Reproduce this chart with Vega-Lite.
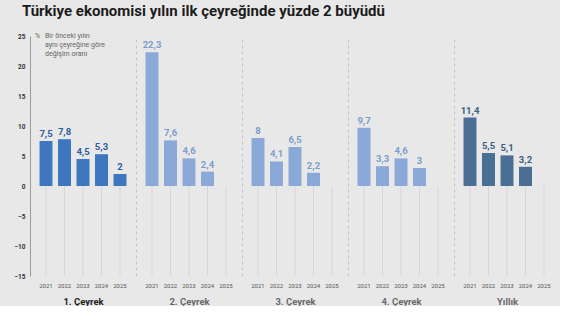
{
  "$schema": "https://vega.github.io/schema/vega-lite/v6.json",
  "background": "#e8e8e8",
  "padding": {"left": 13, "top": 4, "right": 0, "bottom": 0},
  "title": {"text": "Türkiye ekonomisi yılın ilk çeyreğinde yüzde 2 büyüdü", "anchor": "start", "frame": "bounds", "font": "Roboto", "fontSize": 15, "fontWeight": "bold", "color": "#1c1c1c", "offset": 13, "dx": 8},
  "config": {
    "locale": {"number": {"decimal": ",", "thousands": ".", "grouping": [3], "currency": ["", " TL"]}},
    "view": {"stroke": null},
    "concat": {"spacing": 0},
    "font": "Roboto",
    "axisX": {"labelFontSize": 6, "labelColor": "#555", "labelAngle": 0, "domain": false, "ticks": false, "grid": false, "labelPadding": 6, "titleFontSize": 9.5, "titleFontWeight": "bold", "titleColor": "#6a6a6a", "titlePadding": 8, "labelFont": "Roboto", "titleFont": "Roboto"},
    "axisY": {"grid": false, "ticks": false, "labels": false, "labelOverlap": false, "domainDash": [3, 3], "domainColor": "#c4c4c4", "title": null}
  },
  "data": {"values": [
    {"q": "1. Çeyrek", "year": "2021", "value": 7.5},
    {"q": "1. Çeyrek", "year": "2022", "value": 7.8},
    {"q": "1. Çeyrek", "year": "2023", "value": 4.5},
    {"q": "1. Çeyrek", "year": "2024", "value": 5.3},
    {"q": "1. Çeyrek", "year": "2025", "value": 2},
    {"q": "2. Çeyrek", "year": "2021", "value": 22.3},
    {"q": "2. Çeyrek", "year": "2022", "value": 7.6},
    {"q": "2. Çeyrek", "year": "2023", "value": 4.6},
    {"q": "2. Çeyrek", "year": "2024", "value": 2.4},
    {"q": "3. Çeyrek", "year": "2021", "value": 8},
    {"q": "3. Çeyrek", "year": "2022", "value": 4.1},
    {"q": "3. Çeyrek", "year": "2023", "value": 6.5},
    {"q": "3. Çeyrek", "year": "2024", "value": 2.2},
    {"q": "4. Çeyrek", "year": "2021", "value": 9.7},
    {"q": "4. Çeyrek", "year": "2022", "value": 3.3},
    {"q": "4. Çeyrek", "year": "2023", "value": 4.6},
    {"q": "4. Çeyrek", "year": "2024", "value": 3},
    {"q": "Yıllık", "year": "2021", "value": 11.4},
    {"q": "Yıllık", "year": "2022", "value": 5.5},
    {"q": "Yıllık", "year": "2023", "value": 5.1},
    {"q": "Yıllık", "year": "2024", "value": 3.2}
  ]},
  "resolve": {"scale": {"x": "independent", "y": "independent"}},
  "hconcat": [
    {
      "width": 106, "height": 240,
      "encoding": {"x": {"field": "year", "type": "ordinal", "scale": {"domain": ["2021", "2022", "2023", "2024", "2025"], "paddingInner": 0.3, "paddingOuter": 0.515}, "axis": {"title": "1. Çeyrek", "titleColor": "#222"}}},
      "layer": [
        {"data": {"values": [{"year": "2021"}, {"year": "2022"}, {"year": "2023"}, {"year": "2024"}, {"year": "2025"}]}, "mark": {"type": "rule", "color": "#d6d6d6"}, "encoding": {"y": {"datum": 0, "type": "quantitative", "scale": {"domain": [-15, 25], "nice": false}, "axis": {"labels": true, "tickCount": 12, "values": [-15, -10, -5, 0, 5, 10, 15, 20, 25], "labelFontSize": 6.5, "labelFontWeight": "bold", "labelColor": "#333", "labelPadding": 5, "domainDash": [], "domainColor": "#9a9a9a"}}, "y2": {"datum": -15}}},
        {"transform": [{"filter": "datum.q == '1. Çeyrek'"}], "mark": {"type": "bar", "color": "#3f76c0"}, "encoding": {"y": {"field": "value", "type": "quantitative"}}},
        {"transform": [{"filter": "datum.q == '1. Çeyrek'"}], "mark": {"type": "text", "color": "#2e5f9f", "fontSize": 9.5, "fontWeight": "bold", "baseline": "bottom", "dy": -2}, "encoding": {"y": {"field": "value", "type": "quantitative"}, "text": {"field": "value", "type": "quantitative", "format": ".1~f"}}},
        {"data": {"values": [{"year": "2021", "value": 25, "t": "Bir önceki yılın\naynı çeyreğine göre\ndeğişim oranı"}]}, "mark": {"type": "text", "color": "#666", "fontSize": 7, "align": "left", "baseline": "top", "lineBreak": "\n", "lineHeight": 9, "dx": -1, "dy": -4}, "encoding": {"y": {"field": "value", "type": "quantitative"}, "text": {"field": "t"}}},
        {"data": {"values": [{"year": "2021", "value": 25, "t": "%"}]}, "mark": {"type": "text", "color": "#666", "fontSize": 7, "align": "left", "baseline": "top", "dx": -11, "dy": -4}, "encoding": {"y": {"field": "value", "type": "quantitative"}, "text": {"field": "t"}}}
      ]
    },
    {
      "width": 106, "height": 240,
      "encoding": {"x": {"field": "year", "type": "ordinal", "scale": {"domain": ["2021", "2022", "2023", "2024", "2025"], "paddingInner": 0.3, "paddingOuter": 0.515}, "axis": {"title": "2. Çeyrek"}}},
      "layer": [
        {"data": {"values": [{"year": "2021"}, {"year": "2022"}, {"year": "2023"}, {"year": "2024"}, {"year": "2025"}]}, "mark": {"type": "rule", "color": "#d6d6d6"}, "encoding": {"y": {"datum": 0, "type": "quantitative", "scale": {"domain": [-15, 25], "nice": false}}, "y2": {"datum": -15}}},
        {"transform": [{"filter": "datum.q == '2. Çeyrek'"}], "mark": {"type": "bar", "color": "#8aa8d8"}, "encoding": {"y": {"field": "value", "type": "quantitative"}}},
        {"transform": [{"filter": "datum.q == '2. Çeyrek'"}], "mark": {"type": "text", "color": "#7d9dcc", "fontSize": 9.5, "fontWeight": "bold", "baseline": "bottom", "dy": -2}, "encoding": {"y": {"field": "value", "type": "quantitative"}, "text": {"field": "value", "type": "quantitative", "format": ".1~f"}}}
      ]
    },
    {
      "width": 106, "height": 240,
      "encoding": {"x": {"field": "year", "type": "ordinal", "scale": {"domain": ["2021", "2022", "2023", "2024", "2025"], "paddingInner": 0.3, "paddingOuter": 0.515}, "axis": {"title": "3. Çeyrek"}}},
      "layer": [
        {"data": {"values": [{"year": "2021"}, {"year": "2022"}, {"year": "2023"}, {"year": "2024"}, {"year": "2025"}]}, "mark": {"type": "rule", "color": "#d6d6d6"}, "encoding": {"y": {"datum": 0, "type": "quantitative", "scale": {"domain": [-15, 25], "nice": false}}, "y2": {"datum": -15}}},
        {"transform": [{"filter": "datum.q == '3. Çeyrek'"}], "mark": {"type": "bar", "color": "#8aa8d8"}, "encoding": {"y": {"field": "value", "type": "quantitative"}}},
        {"transform": [{"filter": "datum.q == '3. Çeyrek'"}], "mark": {"type": "text", "color": "#7d9dcc", "fontSize": 9.5, "fontWeight": "bold", "baseline": "bottom", "dy": -2}, "encoding": {"y": {"field": "value", "type": "quantitative"}, "text": {"field": "value", "type": "quantitative", "format": ".1~f"}}}
      ]
    },
    {
      "width": 106, "height": 240,
      "encoding": {"x": {"field": "year", "type": "ordinal", "scale": {"domain": ["2021", "2022", "2023", "2024", "2025"], "paddingInner": 0.3, "paddingOuter": 0.515}, "axis": {"title": "4. Çeyrek"}}},
      "layer": [
        {"data": {"values": [{"year": "2021"}, {"year": "2022"}, {"year": "2023"}, {"year": "2024"}, {"year": "2025"}]}, "mark": {"type": "rule", "color": "#d6d6d6"}, "encoding": {"y": {"datum": 0, "type": "quantitative", "scale": {"domain": [-15, 25], "nice": false}}, "y2": {"datum": -15}}},
        {"transform": [{"filter": "datum.q == '4. Çeyrek'"}], "mark": {"type": "bar", "color": "#8aa8d8"}, "encoding": {"y": {"field": "value", "type": "quantitative"}}},
        {"transform": [{"filter": "datum.q == '4. Çeyrek'"}], "mark": {"type": "text", "color": "#7d9dcc", "fontSize": 9.5, "fontWeight": "bold", "baseline": "bottom", "dy": -2}, "encoding": {"y": {"field": "value", "type": "quantitative"}, "text": {"field": "value", "type": "quantitative", "format": ".1~f"}}}
      ]
    },
    {
      "width": 106, "height": 240,
      "encoding": {"x": {"field": "year", "type": "ordinal", "scale": {"domain": ["2021", "2022", "2023", "2024", "2025"], "paddingInner": 0.3, "paddingOuter": 0.515}, "axis": {"title": "Yıllık"}}},
      "layer": [
        {"data": {"values": [{"year": "2021"}, {"year": "2022"}, {"year": "2023"}, {"year": "2024"}, {"year": "2025"}]}, "mark": {"type": "rule", "color": "#d6d6d6"}, "encoding": {"y": {"datum": 0, "type": "quantitative", "scale": {"domain": [-15, 25], "nice": false}}, "y2": {"datum": -15}}},
        {"transform": [{"filter": "datum.q == 'Yıllık'"}], "mark": {"type": "bar", "color": "#4b6e94"}, "encoding": {"y": {"field": "value", "type": "quantitative"}}},
        {"transform": [{"filter": "datum.q == 'Yıllık'"}], "mark": {"type": "text", "color": "#3d5f82", "fontSize": 9.5, "fontWeight": "bold", "baseline": "bottom", "dy": -2}, "encoding": {"y": {"field": "value", "type": "quantitative"}, "text": {"field": "value", "type": "quantitative", "format": ".1~f"}}}
      ]
    }
  ]
}
